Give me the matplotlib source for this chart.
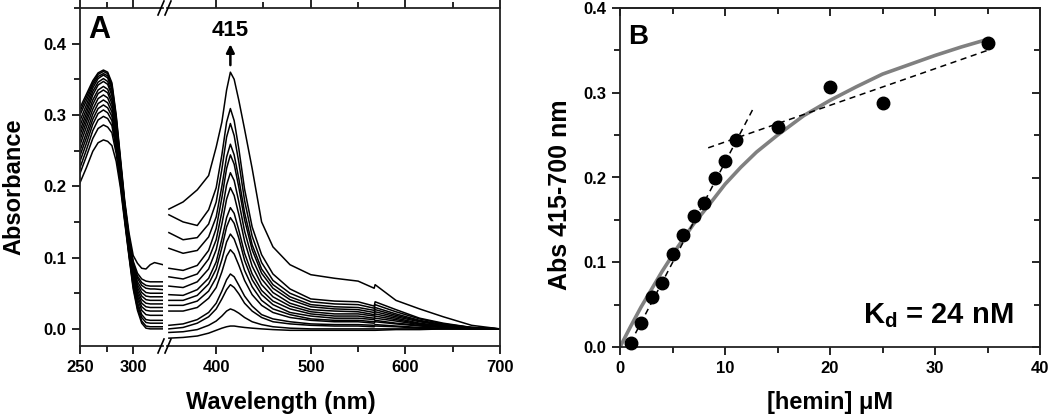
import matplotlib
matplotlib.use("Agg")
import matplotlib.pyplot as plt
from matplotlib.lines import Line2D
from matplotlib.ticker import MultipleLocator, FixedLocator, FormatStrFormatter

plt.rcParams['font.family'] = ['Liberation Sans', 'DejaVu Sans']
plt.rcParams['font.weight'] = 'bold'
plt.rcParams['mathtext.fontset'] = 'custom'
plt.rcParams['mathtext.bf'] = 'Liberation Sans:bold'
plt.rcParams['mathtext.rm'] = 'Liberation Sans:bold'

# --- panel A: spectra, left segment (protein band) ---
wl_left = [250, 256, 262, 267, 272, 276, 280, 284, 288, 292, 296, 300, 304, 308, 312, 316, 320, 328]
abs_left = [
    [.310, .329, .348, .359, .363, .360, .345, .300, .240, .180, .135, .103, .092, .085, .084, .090, .093, .090],
    [.305, .325, .345, .357, .361, .358, .342, .297, .236, .177, .130, .095, .078, .070, .067, .066, .066, .066],
    [.300, .320, .342, .354, .358, .355, .339, .294, .234, .175, .128, .092, .074, .065, .061, .060, .060, .060],
    [.292, .314, .338, .351, .356, .352, .336, .291, .232, .173, .126, .090, .071, .061, .057, .056, .056, .055],
    [.285, .308, .333, .346, .351, .347, .331, .287, .229, .171, .124, .087, .066, .056, .051, .050, .050, .050],
    [.278, .302, .328, .342, .347, .343, .327, .284, .227, .169, .121, .084, .062, .051, .046, .045, .045, .045],
    [.272, .296, .321, .335, .340, .336, .321, .279, .224, .167, .119, .081, .058, .046, .041, .040, .040, .040],
    [.265, .290, .315, .330, .335, .331, .316, .276, .222, .165, .117, .078, .054, .041, .036, .035, .035, .035],
    [.258, .283, .308, .323, .328, .324, .310, .271, .219, .163, .115, .075, .050, .036, .031, .030, .030, .030],
    [.250, .275, .301, .316, .321, .317, .304, .267, .216, .161, .113, .072, .046, .031, .026, .025, .025, .025],
    [.243, .268, .294, .309, .314, .310, .298, .262, .213, .159, .111, .069, .042, .026, .020, .019, .019, .019],
    [.235, .260, .287, .302, .307, .303, .292, .257, .210, .157, .108, .065, .037, .020, .013, .012, .012, .012],
    [.226, .251, .278, .293, .298, .295, .285, .252, .207, .155, .106, .062, .033, .016, .009, .008, .008, .008],
    [.218, .242, .267, .281, .286, .283, .275, .246, .203, .153, .104, .059, .029, .011, .004, .003, .003, .003],
    [.205, .226, .249, .261, .265, .263, .257, .235, .198, .150, .102, .056, .026, .008, .001, .000, .000, .000],
]

# --- panel A: spectra, right segment (Soret region) ---
wl_right = [350, 365, 380, 392, 400, 406, 411, 415, 419, 424, 430, 438, 448, 460, 478,
            500, 525, 550, 567, 568, 590, 615, 640, 670, 700]
abs_right = [
    [.168, .178, .195, .215, .255, .290, .335, .360, .350, .320, .280, .225, .150, .115, .090,
     .076, .071, .067, .057, .062, .040, .028, .017, .005, .000],
    [.160, .150, .145, .167, .198, .244, .290, .309, .292, .252, .196, .143, .104, .077, .056,
     .042, .039, .038, .032, .038, .027, .015, .008, .002, .000],
    [.135, .125, .128, .147, .178, .224, .269, .288, .271, .233, .180, .130, .093, .068, .050,
     .038, .035, .034, .029, .034, .024, .014, .007, .002, .000],
    [.113, .106, .110, .129, .157, .200, .241, .259, .244, .210, .163, .118, .084, .062, .045,
     .034, .031, .030, .026, .030, .021, .012, .006, .002, .000],
    [.085, .082, .089, .110, .141, .184, .225, .244, .231, .198, .153, .111, .078, .057, .041,
     .031, .028, .027, .023, .027, .019, .011, .005, .001, .000],
    [.073, .070, .077, .098, .125, .164, .202, .219, .208, .178, .137, .099, .070, .051, .036,
     .027, .025, .024, .020, .024, .017, .010, .005, .001, .000],
    [.060, .058, .066, .084, .111, .147, .182, .198, .187, .160, .123, .088, .062, .045, .032,
     .024, .021, .021, .018, .021, .015, .008, .004, .001, .000],
    [.048, .047, .055, .071, .094, .126, .156, .170, .162, .138, .106, .077, .054, .039, .028,
     .021, .018, .018, .015, .018, .013, .007, .004, .001, .000],
    [.040, .040, .047, .063, .084, .114, .143, .156, .148, .127, .096, .069, .048, .034, .023,
     .018, .015, .015, .013, .015, .011, .006, .003, .001, .000],
    [.033, .033, .039, .053, .072, .097, .122, .133, .126, .108, .082, .059, .040, .028, .020,
     .014, .012, .012, .010, .012, .008, .005, .002, .001, .000],
    [.025, .025, .030, .043, .058, .080, .102, .111, .105, .089, .068, .048, .033, .023, .016,
     .012, .010, .010, .008, .010, .007, .004, .002, .000, .000],
    [.005, .007, .013, .023, .036, .053, .069, .077, .073, .061, .046, .032, .020, .014, .010,
     .007, .006, .006, .005, .006, .004, .002, .001, .000, .000],
    [.000, .002, .008, .017, .028, .042, .055, .062, .058, .049, .036, .025, .016, .010, .007,
     .005, .004, .004, .003, .004, .003, .001, .000, .000, .000],
    [-.005, -.004, -.001, .005, .011, .018, .025, .028, .026, .022, .016, .010, .006, .003, .001,
     .000, .000, .000, .000, .000, .000, .000, .000, .000, .000],
    [-.013, -.012, -.010, -.006, -.002, .001, .003, .004, .004, .003, .002, .001, .000, -.001, -.002,
     -.002, -.002, -.002, -.002, -.002, -.001, -.001, .000, .000, .000],
]

# --- panel B: titration ---
hemin_uM = [1, 2, 3, 4, 5, 6, 7, 8, 9, 10, 11, 15, 20, 25, 35]
abs_415_700 = [0.005, 0.028, 0.059, 0.076, 0.110, 0.132, 0.154, 0.170, 0.199, 0.219,
               0.244, 0.260, 0.307, 0.288, 0.359]
fit_x = [0, 1, 2, 3, 4, 5.5, 7, 8.5, 10, 11.5, 13, 15, 17.5, 20, 22.5, 25, 27.5, 30, 32.5, 35]
fit_y = [0, .024, .047, .068, .089, .118, .145, .168, .192, .212, .230, .250, .273, .291,
         .307, .322, .333, .344, .354, .363]
steep_x = [1.0, 12.8]
steep_y = [0.005, 0.284]
flat_x = [8.4, 35.0]
flat_y = [0.235, 0.350]

W, H = 1050, 417
fig = plt.figure(figsize=(10.5, 4.17), dpi=100)


def px_box(x0, y0, x1, y1):
    return [x0 / W, 1 - y1 / H, (x1 - x0) / W, (y1 - y0) / H]


axL = fig.add_axes(px_box(80, 8, 163, 346))
axR = fig.add_axes(px_box(167, 8, 500, 346))
axB = fig.add_axes(px_box(620, 8, 1040, 347))

for row in abs_left:
    axL.plot(wl_left, row, color='black', lw=1.1)
for row in abs_right:
    axR.plot(wl_right, row, color='black', lw=1.1)

for ax in (axL, axR, axB):
    for s in ax.spines.values():
        s.set_linewidth(1.3)
        s.set_color('#222222')
    ax.tick_params(which='both', labelsize=12, width=1.2, pad=4)
    ax.tick_params(which='major', length=6)
    ax.tick_params(which='minor', length=4)

ylim_a = (-0.024, 0.45)
axL.set_xlim(250, 328)
axL.set_ylim(*ylim_a)
axR.set_xlim(348, 700)
axR.set_ylim(*ylim_a)

axL.spines['right'].set_visible(False)
axR.spines['left'].set_visible(False)
axL.xaxis.set_major_locator(FixedLocator([250, 300]))
axL.xaxis.set_minor_locator(FixedLocator([275]))
axR.xaxis.set_major_locator(FixedLocator([400, 500, 600, 700]))
axR.xaxis.set_minor_locator(FixedLocator([450, 550, 650]))
axL.yaxis.set_major_locator(MultipleLocator(0.1))
axL.yaxis.set_minor_locator(MultipleLocator(0.05))
axL.yaxis.set_major_formatter(FormatStrFormatter('%.1f'))
axL.tick_params(which='both', direction='out', top=True, right=False)
axR.tick_params(which='both', direction='out', top=True, left=False, right=False, labelleft=False)

axL.set_ylabel('Absorbance', fontsize=17, fontweight='bold')
axL.yaxis.set_label_coords(-0.66, 0.47)
axR.set_xlabel('Wavelength (nm)', fontsize=17, fontweight='bold')
axR.xaxis.set_label_coords(0.342, -0.133)

# axis break marks
for yc in (8, 346):
    for xc in (161, 168):
        fig.add_artist(Line2D([(xc - 3) / W, (xc + 3) / W],
                              [1 - (yc + 7) / H, 1 - (yc - 7) / H],
                              transform=fig.transFigure, color='black', lw=1.2))

axR.text(415, 0.418, '415', ha='center', va='center', fontsize=16, fontweight='bold')
axR.annotate('', xy=(415, 0.403), xytext=(415, 0.366),
             arrowprops=dict(arrowstyle='-|>', color='black', lw=1.8, mutation_scale=12))
fig.text(88 / W, 1 - 30 / H, 'A', fontsize=22, fontweight='bold', ha='left', va='center')

# panel B
axB.plot(fit_x, fit_y, color='#808080', lw=2.6, zorder=2)
axB.plot(steep_x, steep_y, color='black', lw=1.1, ls=(0, (4, 3)), zorder=3)
axB.plot(flat_x, flat_y, color='black', lw=1.1, ls=(0, (4, 3)), zorder=3)
axB.plot(hemin_uM, abs_415_700, 'o', color='black', ms=9, zorder=4, clip_on=False)
axB.set_xlim(0, 40)
axB.set_ylim(0, 0.4)
axB.xaxis.set_major_locator(MultipleLocator(10))
axB.xaxis.set_minor_locator(MultipleLocator(5))
axB.yaxis.set_major_locator(MultipleLocator(0.1))
axB.yaxis.set_minor_locator(MultipleLocator(0.05))
axB.yaxis.set_major_formatter(FormatStrFormatter('%.1f'))
axB.tick_params(which='both', direction='out', top=False, right=False)

secx = axB.secondary_xaxis('top')
secx.xaxis.set_major_locator(MultipleLocator(10))
secx.xaxis.set_minor_locator(MultipleLocator(5))
secx.tick_params(which='both', direction='in', labeltop=False, width=1.2)
secx.tick_params(which='major', length=6)
secx.tick_params(which='minor', length=4)
secy = axB.secondary_yaxis('right')
secy.yaxis.set_major_locator(MultipleLocator(0.1))
secy.yaxis.set_minor_locator(MultipleLocator(0.05))
secy.tick_params(which='both', direction='in', labelright=False, width=1.2)
secy.tick_params(which='major', length=6)
secy.tick_params(which='minor', length=4)
for s in list(secx.spines.values()) + list(secy.spines.values()):
    s.set_linewidth(1.3)
    s.set_color('#222222')

axB.set_xlabel('[hemin] μM', fontsize=17, fontweight='bold')
axB.xaxis.set_label_coords(0.5, -0.13)
axB.set_ylabel('Abs 415-700 nm', fontsize=18, fontweight='bold')
axB.yaxis.set_label_coords(-0.114, 0.45)
axB.text(0.936, 0.071, r'$\mathbf{K_d}$ = 24 nM', transform=axB.transAxes,
         ha='right', va='baseline', fontsize=21, fontweight='bold')
fig.text(628 / W, 1 - 37 / H, 'B', fontsize=20, fontweight='bold', ha='left', va='center')

for ax in (axL, axR, axB):
    for lab in ax.get_xticklabels() + ax.get_yticklabels():
        lab.set_fontweight('bold')

fig.savefig('out.png', dpi=100)
